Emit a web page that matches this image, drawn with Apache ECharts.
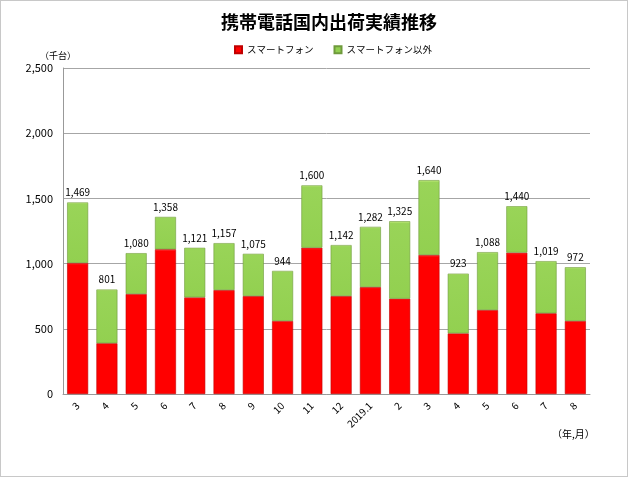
<!DOCTYPE html>
<html><head><meta charset="utf-8">
<script src="https://cdn.jsdelivr.net/npm/echarts@6/dist/echarts.min.js"></script>
<style>
html,body{margin:0;padding:0;background:#fff;}
#wrap{position:absolute;left:0;top:0;width:626px;height:475px;border:1px solid #c8c8c8;}
#c{width:628px;height:477px;position:absolute;left:-1px;top:-1px;}
</style></head>
<body><div id="wrap"><div id="c"></div></div>
<script>
const categories = ['3','4','5','6','7','8','9','10','11','12','2019.1','2','3','4','5','6','7','8'];
const smartphone = [1005,389,767,1110,741,797,751,560,1122,751,820,731,1066,465,644,1084,619,560];
const others =     [464,412,313,248,380,360,324,384,478,391,462,594,574,458,444,356,400,412];
const totals =     [1469,801,1080,1358,1121,1157,1075,944,1600,1142,1282,1325,1640,923,1088,1440,1019,972];
const yTicks = {min:0, max:2500, interval:500};

const font = "'Noto Sans CJK JP', sans-serif";
const chart = echarts.init(document.getElementById('c'), null, {renderer:'canvas'});
chart.setOption({
  animation:false,
  backgroundColor:'transparent',
  title:{text:'携帯電話国内出荷実績推移', left:216, top:8,
    textStyle:{fontFamily:font, fontSize:18, fontWeight:'bold', color:'#000'}},
  legend:{top:40, left:229, itemWidth:7, itemHeight:7, itemGap:20,
    textStyle:{fontFamily:font, fontSize:9.5, color:'#000'},
    data:[{name:'スマートフォン', icon:'rect', itemStyle:{color:'#ff0000'}},{name:'スマートフォン以外', icon:'rect', itemStyle:{color:'#92d050'}}]},
  grid:{left:63, right:38, top:68, bottom:83},
  graphic:[
    {type:'text', left:40, top:51, style:{text:'（千台）', fontFamily:font, fontSize:9, fill:'#000'}},
    {type:'text', left:552, top:429, style:{text:'（年,月）', fontFamily:font, fontSize:10, fill:'#000'}}
  ],
  xAxis:{type:'category', data:categories,
    axisLine:{lineStyle:{color:'#999'}}, axisTick:{show:false},
    axisLabel:{rotate:45, fontFamily:font, fontSize:10, color:'#000', margin:10}},
  yAxis:{type:'value', min:yTicks.min, max:yTicks.max, interval:yTicks.interval,
    axisLine:{show:true, lineStyle:{color:'#999'}}, axisTick:{show:false},
    splitLine:{lineStyle:{color:'#a6a6a6'}},
    axisLabel:{fontFamily:font, fontSize:11, color:'#000', margin:10,
      formatter:v=>v.toLocaleString('en-US')}},
  series:[
    {name:'スマートフォン', type:'bar', stack:'a', data:smartphone, barWidth:21,
     itemStyle:{color:new echarts.graphic.LinearGradient(0,0,0,1,[{offset:0,color:'#ff4040'},{offset:0.015,color:'#ff0000'},{offset:1,color:'#ff0000'}]),
       borderColor:'#c00000', borderWidth:0.6}},
    {name:'スマートフォン以外', type:'bar', stack:'a', data:others, barWidth:21,
     itemStyle:{color:new echarts.graphic.LinearGradient(0,0,0,1,[{offset:0,color:'#c8f080'},{offset:0.03,color:'#99d458'},{offset:1,color:'#92d050'}]),
       borderColor:'#6f9a3c', borderWidth:0.6},
     label:{show:true, position:'top', distance:5, fontFamily:font, fontSize:10, color:'#000',
       formatter:p=>totals[p.dataIndex].toLocaleString('en-US')}}
  ]
});
</script></body></html>
